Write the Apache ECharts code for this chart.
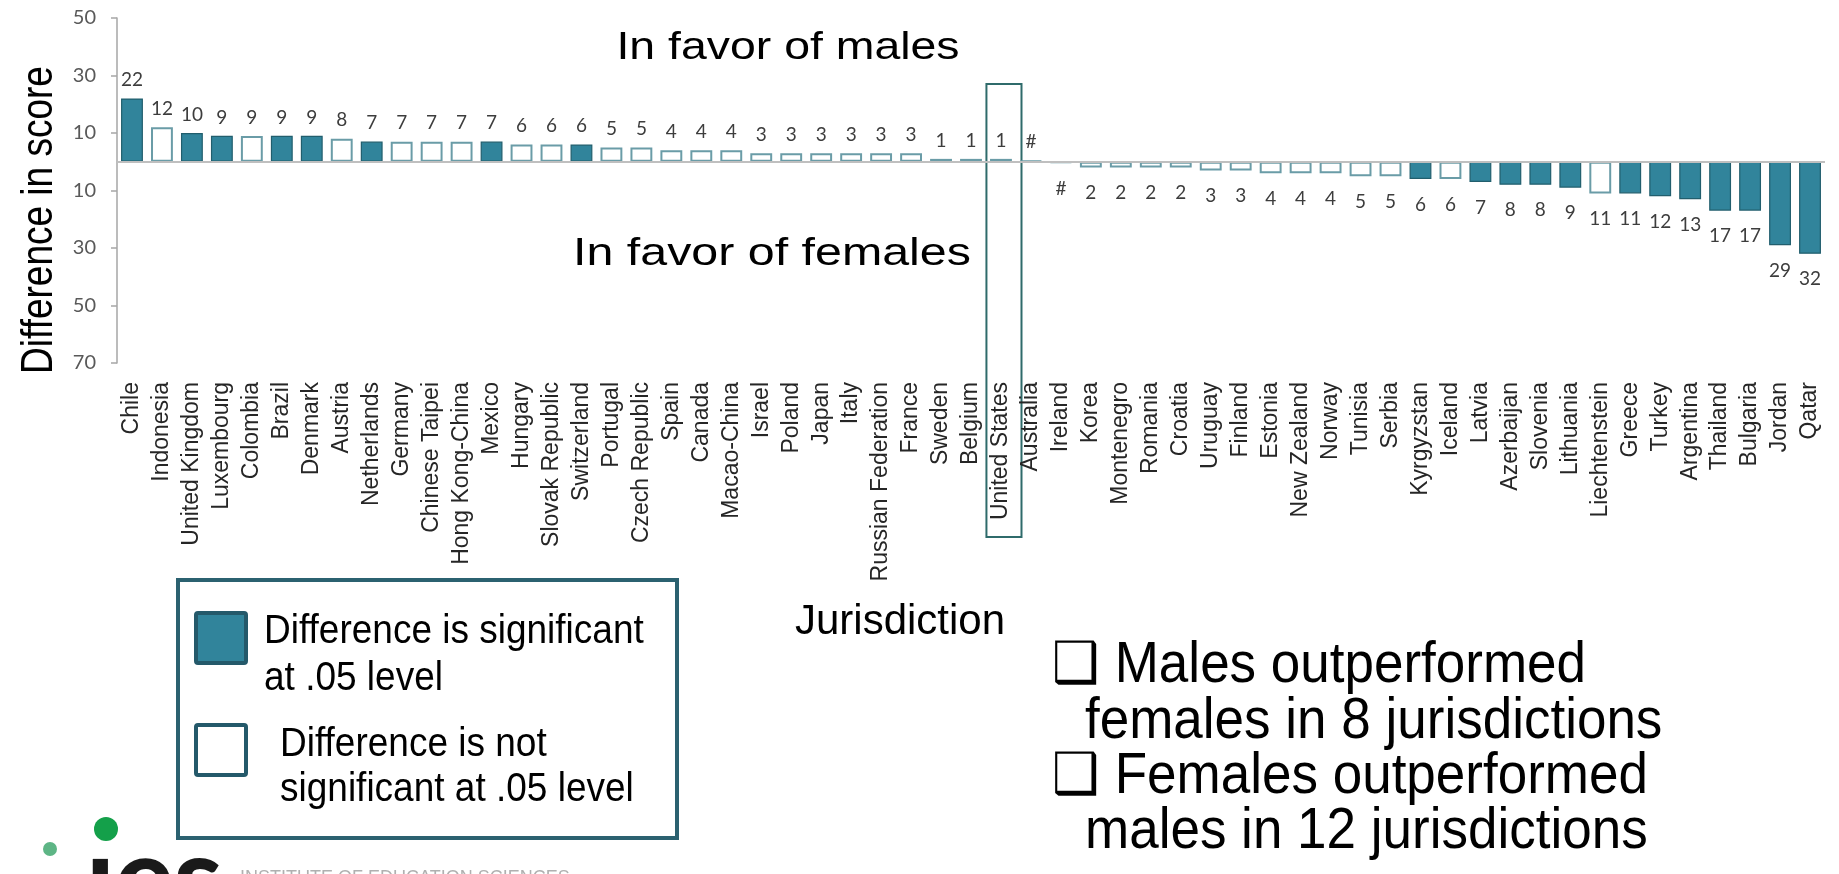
<!DOCTYPE html>
<html>
<head>
<meta charset="utf-8">
<script src="https://cdn.jsdelivr.net/npm/echarts@6/dist/echarts.min.js"></script>
<style>
html,body{margin:0;padding:0;background:#fff;}
#chart{width:1839px;height:874px;}
</style>
</head>
<body>
<div id="chart"></div>
<script>
// ---- data ----
const categories = ["Chile","Indonesia","United Kingdom","Luxembourg","Colombia","Brazil","Denmark","Austria","Netherlands","Germany","Chinese Taipei","Hong Kong-China","Mexico","Hungary","Slovak Republic","Switzerland","Portugal","Czech Republic","Spain","Canada","Macao-China","Israel","Poland","Japan","Italy","Russian Federation","France","Sweden","Belgium","United States","Australia","Ireland","Korea","Montenegro","Romania","Croatia","Uruguay","Finland","Estonia","New Zealand","Norway","Tunisia","Serbia","Kyrgyzstan","Iceland","Latvia","Azerbaijan","Slovenia","Lithuania","Liechtenstein","Greece","Turkey","Argentina","Thailand","Bulgaria","Jordan","Qatar"];
const values = [22,12,10,9,9,9,9,8,7,7,7,7,7,6,6,6,5,5,4,4,4,3,3,3,3,3,3,1,1,1,0.3,-0.3,-2,-2,-2,-2,-3,-3,-4,-4,-4,-5,-5,-6,-6,-7,-8,-8,-9,-11,-11,-12,-13,-17,-17,-29,-32];
const significant = [1,0,1,1,0,1,1,0,1,0,0,0,1,0,0,1,0,0,0,0,0,0,0,0,0,0,0,0,0,0,0,0,0,0,0,0,0,0,0,0,0,0,0,1,0,1,1,1,1,0,1,1,1,1,1,1,1];
const yTicks = {min:-70, max:50, interval:20};
const highlighted = "United States";

const SIG_FILL = '#31849B', SIG_BORDER = '#215E6D', NS_BORDER = '#6A9CA7', BOX = '#2B6170';
const FONT = '"Liberation Sans", Arial';

const chart = echarts.init(document.getElementById('chart'), null, {renderer:'canvas'});

const barData = values.map((v,i)=>({
  value: v,
  itemStyle: significant[i]
    ? {color: SIG_FILL, borderColor: SIG_BORDER, borderWidth: 1.2}
    : {color: '#ffffff', borderColor: NS_BORDER, borderWidth: 2},
  label: {position: v >= 0 ? 'top' : 'bottom', distance: v >= 0 ? 9 : 16}
}));

const option = {
  animation: false,
  backgroundColor: '#ffffff',
  grid: {left: 117, right: 14, top: 18, bottom: 874-363, containLabel: false},
  xAxis: {
    type: 'category', data: categories, position: 'bottom',
    axisLine: {show: false, onZero: false}, axisTick: {show: false},
    axisLabel: {rotate: 90, interval: 0, margin: 19, fontFamily: FONT, fontSize: 23, color: '#262626'}
  },
  yAxis: {
    type: 'value', min: yTicks.min, max: yTicks.max, interval: yTicks.interval,
    splitLine: {show: false},
    axisLine: {show: true, lineStyle: {color: '#a6a6a6', width: 1.5}},
    axisTick: {show: true, length: 6, lineStyle: {color: '#a6a6a6', width: 1.5}},
    axisLabel: {margin: 21, fontFamily: 'Lato', fontSize: 20, color: '#595959', formatter: v => String(Math.abs(v))}
  },
  series: [{
    type: 'bar', data: barData, barCategoryGap: '27%',
    label: {show: true, fontFamily: 'Lato', fontSize: 19, color: '#3d3d3d',
      formatter: p => Math.abs(p.value) < 0.5 ? '#' : String(Math.round(Math.abs(p.value)))},
    markLine: {silent: true, symbol: 'none', label: {show: false},
      lineStyle: {color: '#bfbfbf', width: 2, type: 'solid'}, data: [{yAxis: 0}]}
  }]
};
chart.setOption(option);

// graphics
const cx = chart.convertToPixel({xAxisIndex: 0}, highlighted);
const step = chart.convertToPixel({xAxisIndex: 0}, categories[1]) - chart.convertToPixel({xAxisIndex: 0}, categories[0]);
const boxW = step * 1.17;

chart.setOption({graphic: [
  {type:'rect', shape:{x: cx - boxW/2 + 3, y: 84, width: boxW, height: 537-84},
   style:{fill:'none', stroke:'#2F6B6B', lineWidth:2}},
  {type:'text', x: 788, y: 48, scaleX: 1.19,
   style:{text:'In favor of males', font:'39px ' + FONT, fill:'#000', textAlign:'center', textVerticalAlign:'middle'}},
  {type:'text', x: 772, y: 254, scaleX: 1.24,
   style:{text:'In favor of females', font:'39px ' + FONT, fill:'#000', textAlign:'center', textVerticalAlign:'middle'}},
  {type:'text', x: 40, y: 220, rotation: Math.PI/2, scaleY: 1.19,
   style:{text:'Difference in score', font:'37px ' + FONT, fill:'#000', textAlign:'center', textVerticalAlign:'middle'}},
  {type:'text', x: 900, y: 622,
   style:{text:'Jurisdiction', font:'42px ' + FONT, fill:'#000', textAlign:'center', textVerticalAlign:'middle'}},
  // logo (drawn before legend so the box sits on top)
  {type:'circle', shape:{cx:106, cy:829, r:12}, style:{fill:'#14A04A'}},
  {type:'circle', shape:{cx:50, cy:849, r:7}, style:{fill:'#5DB585'}},
  {type:'text', x:86, y:881, style:{text:'ıes', font:'900 110px Lato', fill:'#1a1a1a', textVerticalAlign:'middle'}},
  {type:'text', x:240, y:869, style:{text:'INSTITUTE OF EDUCATION SCIENCES', font:'18px ' + FONT, fill:'#b0b0b0', textVerticalAlign:'top'}},
  // legend
  {type:'rect', shape:{x:178, y:580, width:499, height:258}, style:{fill:'#fff', stroke:BOX, lineWidth:4}},
  {type:'rect', shape:{x:196, y:613, width:50, height:50, r:2}, style:{fill:SIG_FILL, stroke:'#24596A', lineWidth:4}},
  {type:'rect', shape:{x:196, y:725, width:50, height:50, r:2}, style:{fill:'#fff', stroke:'#24596A', lineWidth:4}},
  {type:'text', x:264, y:632, scaleY:1.12, style:{text:'Difference is significant', font:'37px ' + FONT, fill:'#000', textVerticalAlign:'middle'}},
  {type:'text', x:264, y:679, scaleY:1.12, style:{text:'at .05 level', font:'37px ' + FONT, fill:'#000', textVerticalAlign:'middle'}},
  {type:'text', x:280, y:745, scaleY:1.12, style:{text:'Difference is not', font:'37px ' + FONT, fill:'#000', textVerticalAlign:'middle'}},
  {type:'text', x:280, y:790, scaleY:1.12, style:{text:'significant at .05 level', font:'37px ' + FONT, fill:'#000', textVerticalAlign:'middle'}},
  // right summary
  {type:'text', x:1052, y:666, scaleY:1.08, style:{text:'❑ Males outperformed', font:'53px ' + FONT, fill:'#000', textVerticalAlign:'middle'}},
  {type:'text', x:1085, y:722, scaleY:1.08, style:{text:'females in 8 jurisdictions', font:'53px ' + FONT, fill:'#000', textVerticalAlign:'middle'}},
  {type:'text', x:1052, y:777, scaleY:1.08, style:{text:'❑ Females outperformed', font:'53px ' + FONT, fill:'#000', textVerticalAlign:'middle'}},
  {type:'text', x:1085, y:832, scaleY:1.08, style:{text:'males in 12 jurisdictions', font:'53px ' + FONT, fill:'#000', textVerticalAlign:'middle'}}
]});
</script>
</body>
</html>
